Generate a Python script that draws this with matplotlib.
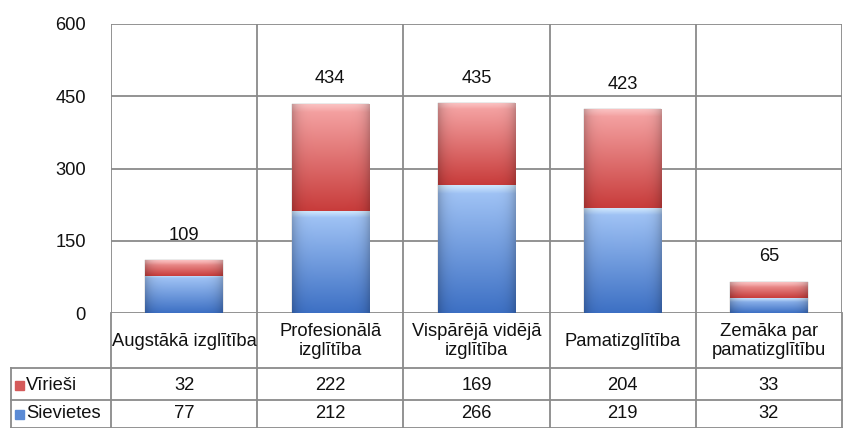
import numpy as np
import matplotlib.pyplot as plt
from matplotlib.transforms import blended_transform_factory
from matplotlib.colors import to_rgb

plt.rcParams['font.family'] = ['Liberation Sans Narrow', 'Liberation Sans', 'DejaVu Sans']

categories = ['Augstākā izglītība', 'Profesionālā\nizglītība', 'Vispārējā vidējā\nizglītība',
              'Pamatizglītība', 'Zemāka par\npamatizglītību']
sievietes = [77, 212, 266, 219, 32]
virieši = [32, 222, 169, 204, 33]
totals = [109, 434, 435, 423, 65]
yticks = [0, 150, 300, 450, 600]

W, H = 843, 428
fig = plt.figure(figsize=(W / 100, H / 100), dpi=100)
px = lambda x0, y0, x1, y1: [x0 / W, 1 - y1 / H, (x1 - x0) / W, (y1 - y0) / H]
ax = fig.add_axes(px(111, 24, 842, 313))
grid = '#8a8a8a'
FS = 13.2
txt = '#111111'

x = np.arange(len(categories))
ax.set_xlim(-0.5, len(categories) - 0.5)
ax.set_ylim(0, 600)
ax.set_yticks(yticks)
ax.set_xticks([])
ax.tick_params(axis='y', length=0, pad=18, labelsize=FS, labelcolor=txt)
for s in ax.spines.values():
    s.set_visible(False)
for v in yticks:
    ax.axhline(v, color=grid, lw=1.3, zorder=1)

blue = ax.bar(x, sievietes, width=0.53, color='#6f9fe6', zorder=2)
red = ax.bar(x, virieši, bottom=sievietes, width=0.53, color='#e06666', zorder=2)


def shade(patches, top, bottom, band):
    top, bottom, band = map(np.array, map(to_rgb, (top, bottom, band)))
    for p in patches:
        x0, y0 = p.get_x(), p.get_y()
        w, h = p.get_width(), p.get_height()
        n = 100
        t = np.linspace(0, 1, n)[:, None, None]  # 0 top, 1 bottom
        col = top * (1 - t) + bottom * t
        bandw = np.clip(1 - t / 0.07, 0, 1) if h > 60 else np.clip(1 - t / 0.3, 0, 1)
        col = col * (1 - 0.75 * bandw) + band * 0.75 * bandw
        u = np.linspace(-1, 1, 60)[None, :, None]
        col = col * (1 - 0.2 * np.abs(u) ** 6)
        col = np.clip(col, 0, 1)
        im = ax.imshow(col, extent=(x0, x0 + w, y0, y0 + h), aspect='auto',
                       zorder=3, interpolation='bilinear')
        im.set_clip_path(p)
        p.set_edgecolor('#9a9a9a')
        p.set_linewidth(0.3)


shade(blue, '#a6c8f8', '#3d70c4', '#e2f6ff')
shade(red, '#f7a8a8', '#c83c3b', '#fbc9c9')

for xi, t in zip(x, totals):
    ax.annotate(str(t), (xi, t), xytext=(0, 12), textcoords='offset points',
                ha='center', va='bottom', fontsize=FS, color=txt)

# vertical separators across plot and table
for b in np.arange(len(categories) + 1) - 0.5:
    ax.axvline(b, color=grid, lw=1.3, zorder=1)

# data table below the axes, in pixel rows
tax = fig.add_axes([0, 0, 1, 1], facecolor='none')
tax.set_xlim(0, W)
tax.set_ylim(H, 0)
tax.axis('off')
tr = blended_transform_factory(ax.transData, tax.transData)
bounds = np.arange(len(categories) + 1) - 0.5
for b in bounds:
    tax.plot([b, b], [313, 428], color=grid, lw=1.3, transform=tr, clip_on=False)
tax.plot([11, 842], [368, 368], color=grid, lw=1.3)
tax.plot([11, 842], [400, 400], color=grid, lw=1.3)
tax.plot([11, 842], [427.5, 427.5], color=grid, lw=1.3)
tax.plot([11, 11], [368, 428], color=grid, lw=1.3)

for xi, c in zip(x, categories):
    tax.text(xi, 341, c, transform=tr, ha='center', va='center', fontsize=FS,
             linespacing=1.15, color=txt)
for xi, v in zip(x, virieši):
    tax.text(xi, 385, str(v), transform=tr, ha='center', va='center', fontsize=FS, color=txt)
for xi, v in zip(x, sievietes):
    tax.text(xi, 414, str(v), transform=tr, ha='center', va='center', fontsize=FS, color=txt)

for yy, name, c in [(385, 'Vīrieši', '#d55a5a'), (414, 'Sievietes', '#5a8ad5')]:
    tax.add_patch(plt.Rectangle((15, yy - 4), 9, 9, color=c))
    tax.text(26, yy, name, ha='left', va='center', fontsize=FS, color=txt)

fig.savefig('out.png', dpi=100)
